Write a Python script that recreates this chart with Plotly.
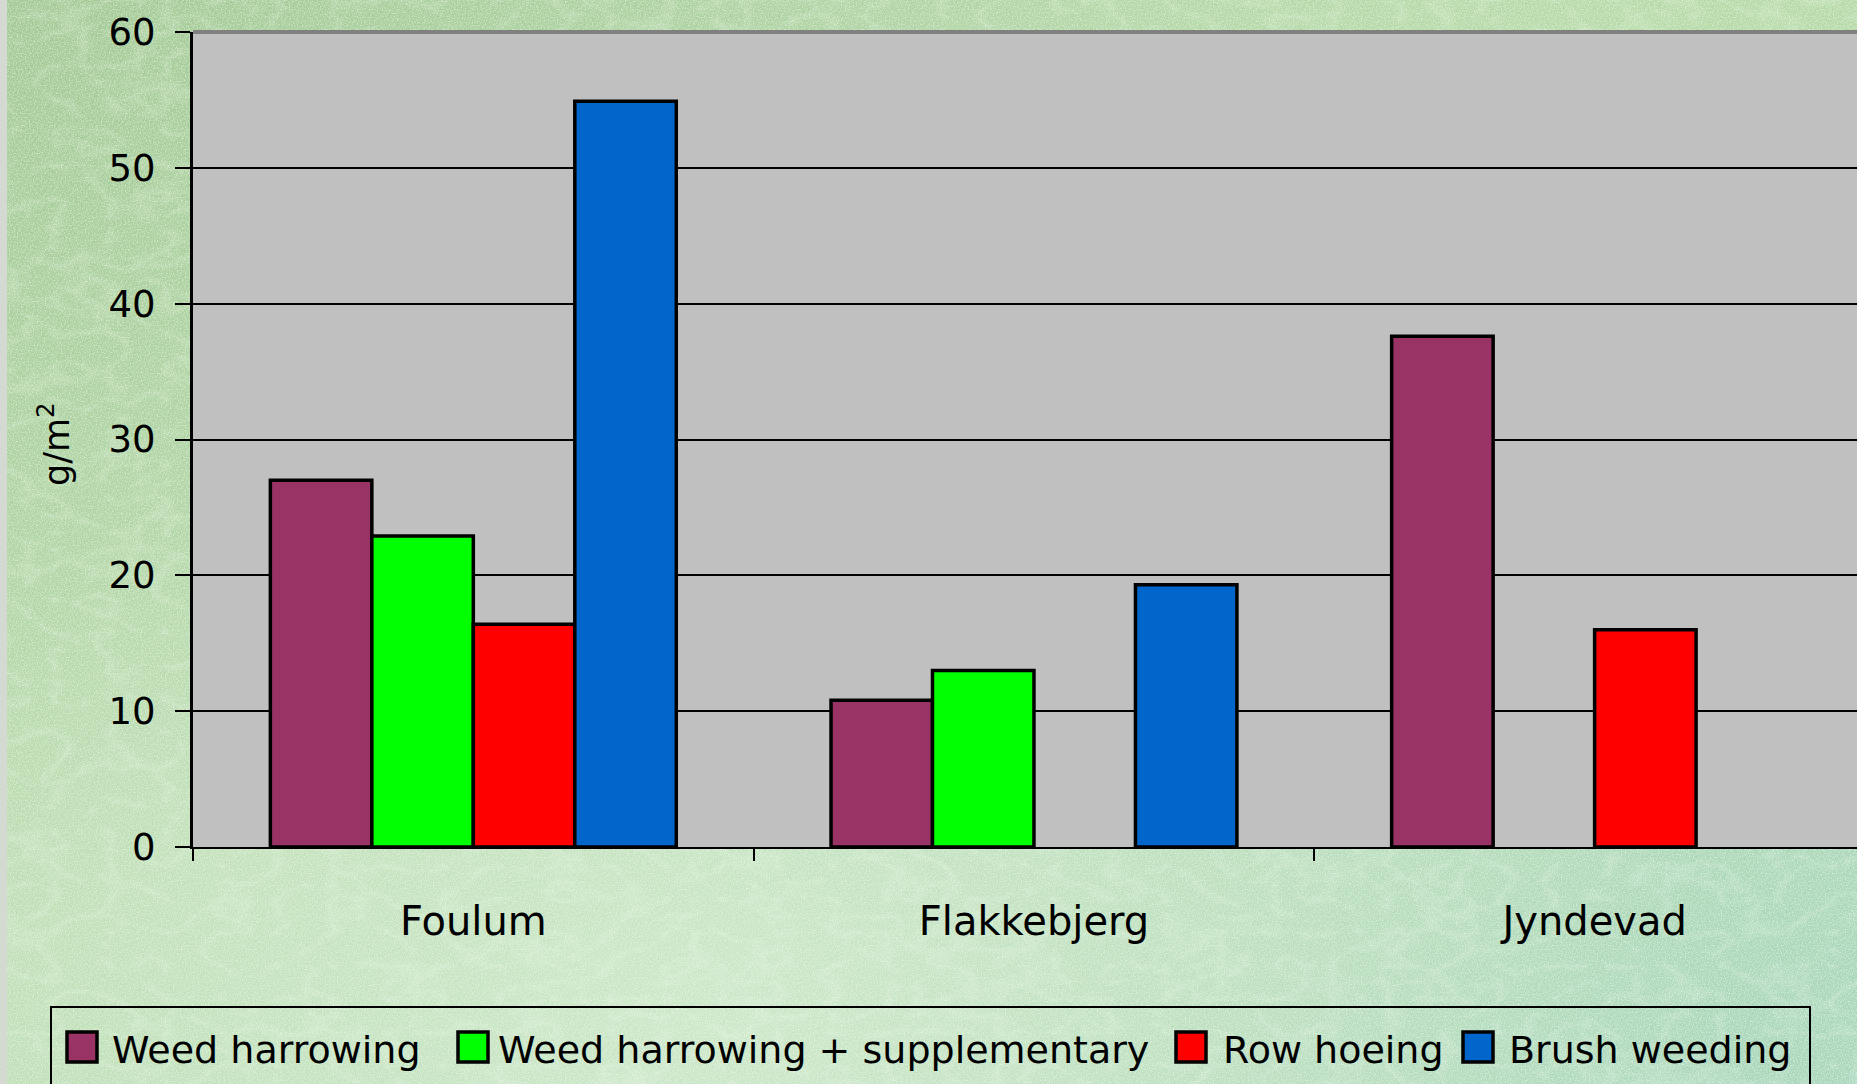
import base64
import plotly.graph_objects as go

# ---- data -------------------------------------------------------------
sites = ["Foulum", "Flakkebjerg", "Jyndevad"]
weed_harrowing = [27.0, 10.8, 37.6]
weed_harrowing_suppl = [22.9, 13.0, None]
row_hoeing = [16.4, None, 16.0]
brush_weeding = [54.9, 19.3, None]

series_names = ["Weed harrowing", "Weed harrowing + supplementary",
                "Row hoeing", "Brush weeding"]
series_values = [weed_harrowing, weed_harrowing_suppl, row_hoeing, brush_weeding]
series_colors = ["#993366", "#00FF00", "#FF0000", "#0066CC"]

y_ticks = [0, 10, 20, 30, 40, 50, 60]

# ---- page geometry (pixels) ------------------------------------------
W, H = 1857, 1084
L, R, T, B = 193, 1857, 32, 847          # plot area edges
FONT = "DejaVu Sans"


def px(x):
    return (x - L) / (R - L)


def py(y):
    return (B - y) / (B - T)


# ---- textured green backdrop as an inline SVG -------------------------
svg = f"""<svg xmlns='http://www.w3.org/2000/svg' width='{W}' height='{H}'>
<defs>
<linearGradient id='base' x1='0' y1='0' x2='1' y2='1'>
<stop offset='0' stop-color='#a2c995'/>
<stop offset='0.45' stop-color='#badcb0'/>
<stop offset='1' stop-color='#a8d6bc'/>
</linearGradient>
<radialGradient id='glow' cx='0.38' cy='0.95' r='0.55'>
<stop offset='0' stop-color='#d2eacd' stop-opacity='0.8'/>
<stop offset='1' stop-color='#d2eacd' stop-opacity='0'/>
</radialGradient>
<radialGradient id='tr' cx='0.95' cy='0.05' r='0.45'>
<stop offset='0' stop-color='#b4d9a4' stop-opacity='0.8'/>
<stop offset='1' stop-color='#b4d9a4' stop-opacity='0'/>
</radialGradient>
<filter id='veins' x='0' y='0' width='100%' height='100%'>
<feTurbulence type='turbulence' baseFrequency='0.018 0.03' numOctaves='3' seed='7'/>
<feColorMatrix type='matrix' values='0 0 0 0 0.9  0 0 0 0 0.97  0 0 0 0 0.88  -3 0 0 0 0.8'/>
</filter>
<filter id='grain' x='0' y='0' width='100%' height='100%'>
<feTurbulence type='fractalNoise' baseFrequency='0.75' numOctaves='1' seed='3'/>
<feColorMatrix type='matrix' values='0 0 0 0 0.95  0 0 0 0 1  0 0 0 0 0.92  3.2 0 0 0 -1.4'/>
</filter>
</defs>
<rect width='100%' height='100%' fill='url(#base)'/>
<rect width='100%' height='100%' fill='url(#glow)'/>
<rect width='100%' height='100%' fill='url(#tr)'/>
<rect width='100%' height='100%' filter='url(#veins)' opacity='0.28'/>
<rect width='100%' height='100%' filter='url(#grain)' opacity='0.5'/>
<rect x='0' y='0' width='7' height='{H}' fill='#d4dad2'/>
</svg>"""
bg_uri = "data:image/svg+xml;base64," + base64.b64encode(svg.encode()).decode()

# ---- bars ---------------------------------------------------------------
fig = go.Figure()
for name, vals, col in zip(series_names, series_values, series_colors):
    fig.add_trace(go.Bar(
        name=name, x=sites, y=vals,
        marker=dict(color=col, line=dict(color="black", width=3.5)),
        showlegend=False, hoverinfo="x+y+name",
    ))

# ---- legend drawn as a framed row of swatches and labels ---------------
shapes = [
    # grey plot area
    dict(type="rect", xref="paper", yref="paper", x0=0, x1=1, y0=0, y1=1,
         fillcolor="#C0C0C0", line=dict(width=0), layer="below"),
    # darker top border of the plot area
    dict(type="line", xref="paper", yref="paper", x0=0, x1=1, y0=1, y1=1,
         line=dict(color="#808080", width=4), layer="above"),
    # legend frame
    dict(type="rect", xref="paper", yref="paper",
         x0=px(51), x1=px(1810), y0=py(1007), y1=py(1100),
         line=dict(color="black", width=2), fillcolor="rgba(0,0,0,0)"),
]
annotations = []
swatch_x = [82, 473, 1191, 1478]
label_x = [110, 496, 1221, 1507]
leg_y = 1047
for name, col, sx, lx in zip(series_names, series_colors, swatch_x, label_x):
    shapes.append(dict(type="rect", xref="paper", yref="paper",
                       x0=px(sx - 15), x1=px(sx + 15),
                       y0=py(leg_y + 15), y1=py(leg_y - 15),
                       fillcolor=col, line=dict(color="black", width=3.5)))
    annotations.append(dict(text=name, xref="paper", yref="paper",
                            x=px(lx), y=py(leg_y + 3), xanchor="left", yanchor="middle",
                            showarrow=False, font=dict(family=FONT, size=38, color="black")))

# y-axis title
annotations.append(dict(text="g/m<sup>2</sup>", xref="paper", yref="paper",
                        x=px(54), y=py(444), xanchor="center", yanchor="middle",
                        textangle=-90, showarrow=False,
                        font=dict(family=FONT, size=35, color="black")))

fig.update_layout(
    width=W, height=H, autosize=False,
    margin=dict(l=L, r=W - R, t=T, b=H - B, pad=0),
    paper_bgcolor="#b8dbb2", plot_bgcolor="rgba(0,0,0,0)",
    barmode="group", bargap=0.276, bargroupgap=0,
    font=dict(family=FONT, size=37, color="black"),
    images=[dict(source=bg_uri, xref="paper", yref="paper",
                 x=px(0), y=py(0), sizex=W / (R - L), sizey=H / (B - T),
                 xanchor="left", yanchor="top", sizing="stretch", layer="below")],
    shapes=shapes, annotations=annotations,
)

fig.update_xaxes(
    type="category", range=[-0.5, 2.468], showgrid=False,
    showline=True, linecolor="black", linewidth=2,
    ticks="outside", tickson="boundaries", ticklen=12, tickwidth=2, tickcolor="black",
    tickfont=dict(family=FONT, size=40, color="black"), ticklabelstandoff=38,
)
fig.update_yaxes(
    range=[0, 60], tickvals=y_ticks, showgrid=True, gridcolor="black", gridwidth=2,
    zeroline=False, showline=True, linecolor="black", linewidth=3,
    ticks="outside", ticklen=15, tickwidth=2, tickcolor="black",
    tickfont=dict(family=FONT, size=37, color="black"), ticklabelstandoff=12,
)

fig.write_html("out.html")
